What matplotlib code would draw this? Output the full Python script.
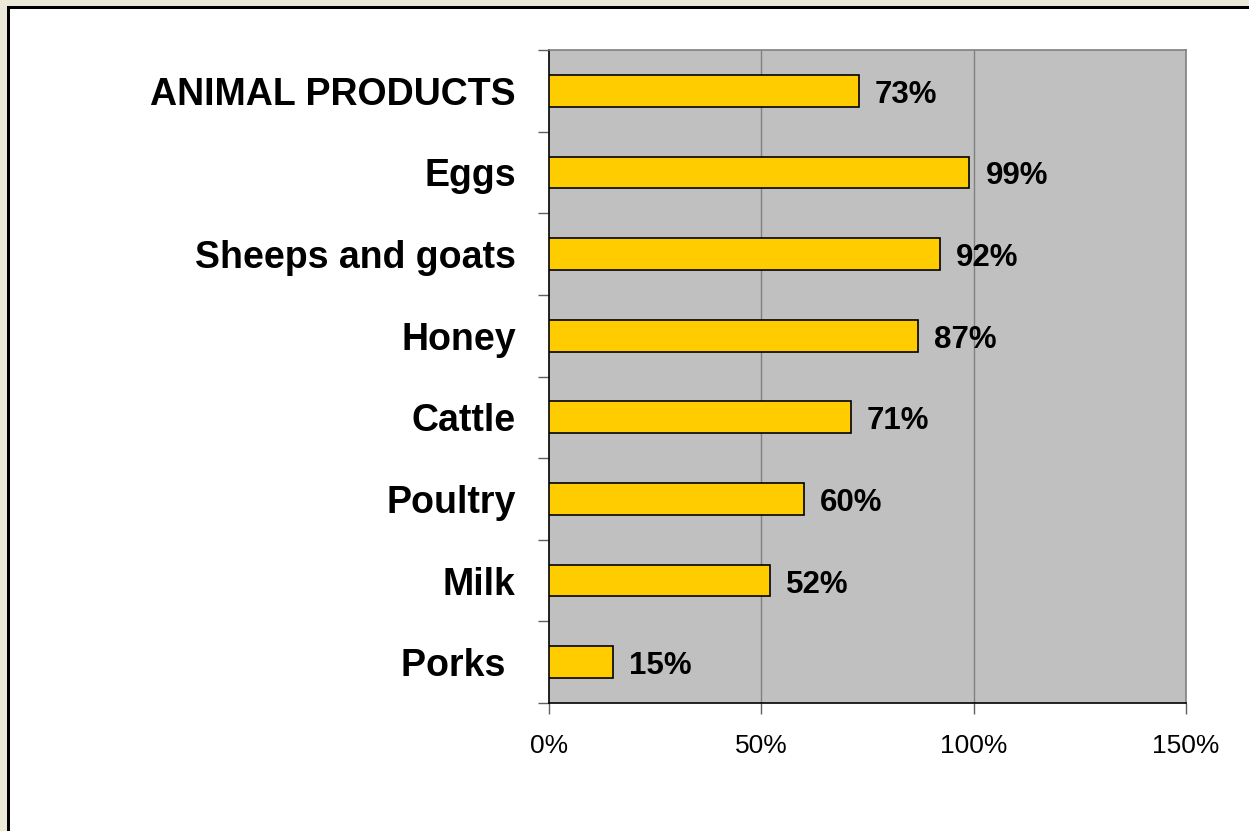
import matplotlib.pyplot as plt
from matplotlib.patches import Rectangle
from matplotlib.ticker import FixedLocator

plt.rcParams['font.family'] = ['Liberation Sans', 'DejaVu Sans']

# данные (снизу вверх)
categories = ["Porks ", "Milk", "Poultry", "Cattle", "Honey",
              "Sheeps and goats", "Eggs", "ANIMAL PRODUCTS"]
values = [15, 52, 60, 71, 87, 92, 99, 73]
x_ticks = [0, 50, 100, 150]
x_labels = ["0%", "50%", "100%", "150%"]

fig = plt.figure(figsize=(12.49, 8.31), dpi=100)
fig.patch.set_facecolor('white')

# рамка слева и сверху как в исходнике
fig.patches.append(Rectangle((0, 0), 7 / 1249, 1, transform=fig.transFigure,
                             facecolor='#ECE9D8', edgecolor='none', zorder=0))
fig.patches.append(Rectangle((0, 1 - 6 / 831), 1, 6 / 831, transform=fig.transFigure,
                             facecolor='#ECE9D8', edgecolor='none', zorder=0))
fig.patches.append(Rectangle((7 / 1249, 0), 3 / 1249, 1 - 6 / 831, transform=fig.transFigure,
                             facecolor='black', edgecolor='none', zorder=1))
fig.patches.append(Rectangle((7 / 1249, 1 - 9 / 831), 1, 3 / 831, transform=fig.transFigure,
                             facecolor='black', edgecolor='none', zorder=1))

ax = fig.add_axes([549 / 1249, 128 / 831, 637 / 1249, 653 / 831])
ax.set_facecolor('#C0C0C0')

y = list(range(len(categories)))
ax.barh(y, values, height=0.39, color='#FFCC00', edgecolor='black',
        linewidth=1.2, zorder=3)

for yi, v in zip(y, values):
    ax.annotate(f"{v}%", (v, yi), xytext=(16, -4), textcoords='offset pixels',
                va='center', ha='left', fontsize=22.5, fontweight='bold', zorder=4)

ax.set_xlim(0, 150)
ax.set_ylim(-0.5, len(categories) - 0.5)

ax.set_xticks(x_ticks)
ax.set_xticklabels(x_labels, fontsize=19)
ax.set_yticks(y)
ax.set_yticklabels(categories, fontsize=27, fontweight='bold')
ax.yaxis.set_minor_locator(FixedLocator([i - 0.5 for i in range(len(categories) + 1)]))

ax.tick_params(axis='y', which='major', length=0, pad=24)
ax.tick_params(axis='y', which='minor', length=8, color='#606060', width=1)
ax.tick_params(axis='x', which='major', length=8, color='#606060', width=1, pad=14)

for xv in x_ticks[1:-1]:
    ax.axvline(xv, color='#808080', linewidth=1, zorder=1)

ax.spines['left'].set_color('black')
ax.spines['bottom'].set_color('black')
ax.spines['top'].set_color('#808080')
ax.spines['right'].set_color('#808080')
for s in ax.spines.values():
    s.set_linewidth(1.2)

fig.savefig('out.png', dpi=100)
